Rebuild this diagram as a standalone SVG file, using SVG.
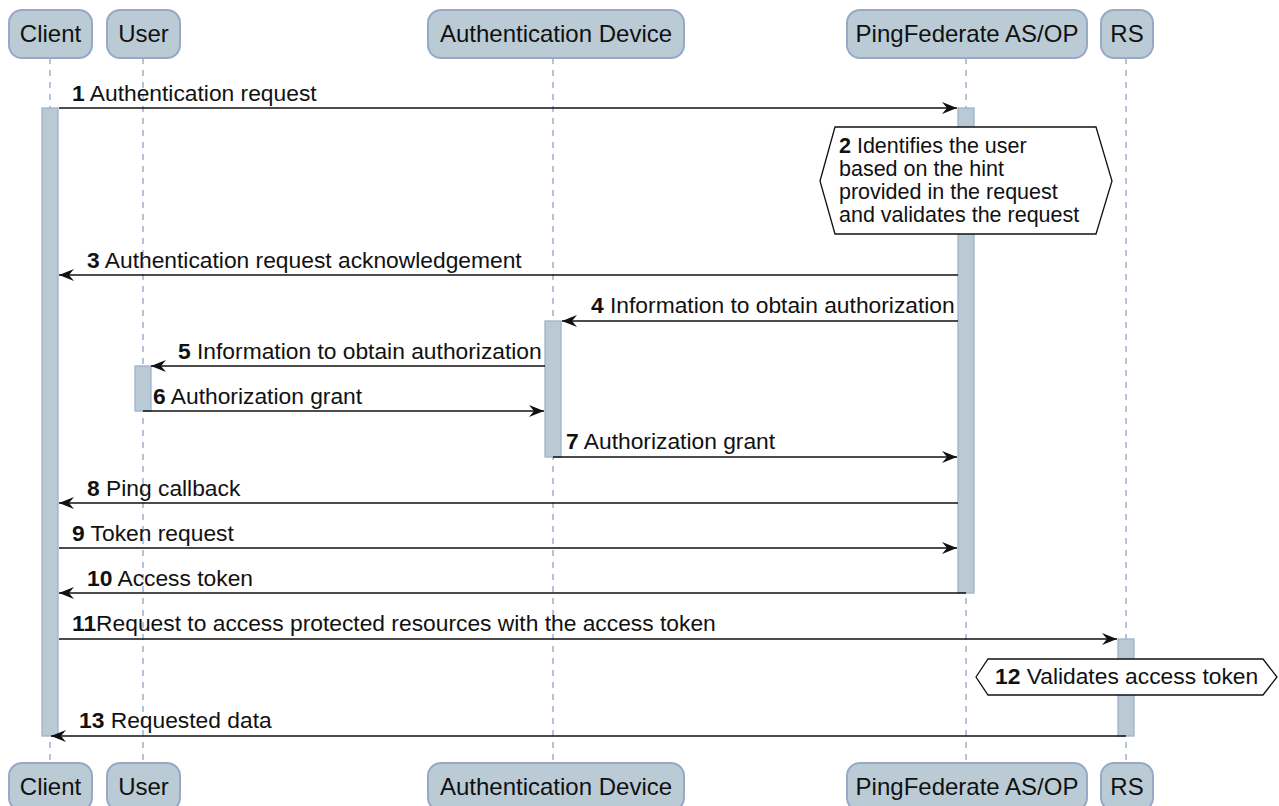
<svg xmlns="http://www.w3.org/2000/svg" width="1279" height="806" viewBox="0 0 1279 806">
<style>
text{font-family:"Liberation Sans",Arial,sans-serif;font-size:22.8px;fill:#111}
.b{font-weight:bold}
.part{fill:#bacbd6;stroke:#97a9c7;stroke-width:2}
.life{stroke:#8ea3c3;stroke-width:1.3;stroke-dasharray:6,6;fill:none}
.act{fill:#b9cad5;stroke:#9fb1cd;stroke-width:1.3}
.msg{stroke:#111;stroke-width:1.6;fill:none}
.note{fill:#fff;stroke:#111;stroke-width:1.3}
.nt{font-size:21.5px}
.pt{text-anchor:middle;font-size:24px}
</style>
<defs>
<marker id="ah" viewBox="0 0 15 12" refX="15" refY="6" markerWidth="15" markerHeight="12" markerUnits="userSpaceOnUse" orient="auto">
<path d="M0,0 L15,6 L0,12 L5,6 Z" fill="#111"/>
</marker>
</defs>
<g id="lifelines">
<line class="life" x1="50" y1="58" x2="50" y2="762"/>
<line class="life" x1="143" y1="58" x2="143" y2="762"/>
<line class="life" x1="553" y1="58" x2="553" y2="762"/>
<line class="life" x1="966" y1="58" x2="966" y2="762"/>
<line class="life" x1="1126" y1="58" x2="1126" y2="762"/>
</g>
<g id="activations">
<rect class="act" x="42" y="108" width="16" height="628"/>
<rect class="act" x="958" y="108" width="16" height="485"/>
<rect class="act" x="545" y="321" width="16" height="136"/>
<rect class="act" x="135" y="366" width="16" height="45"/>
<rect class="act" x="1118" y="639" width="16" height="97"/>
</g>
<g id="p-client"><rect class="part" x="9" y="10" width="83" height="48" rx="13"/><text class="pt" x="50.5" y="42">Client</text></g>
<g id="p-user"><rect class="part" x="107" y="10" width="73" height="48" rx="13"/><text class="pt" x="143.5" y="42">User</text></g>
<g id="p-device"><rect class="part" x="428" y="10" width="256" height="48" rx="13"/><text class="pt" x="556" y="42">Authentication Device</text></g>
<g id="p-ping"><rect class="part" x="847" y="10" width="240" height="48" rx="13"/><text class="pt" x="967" y="42">PingFederate AS/OP</text></g>
<g id="p-rs"><rect class="part" x="1101" y="10" width="52" height="48" rx="13"/><text class="pt" x="1127" y="42">RS</text></g>
<g id="p-client-b"><rect class="part" x="9" y="763" width="83" height="48" rx="13"/><text class="pt" x="50.5" y="795">Client</text></g>
<g id="p-user-b"><rect class="part" x="107" y="763" width="73" height="48" rx="13"/><text class="pt" x="143.5" y="795">User</text></g>
<g id="p-device-b"><rect class="part" x="428" y="763" width="256" height="48" rx="13"/><text class="pt" x="556" y="795">Authentication Device</text></g>
<g id="p-ping-b"><rect class="part" x="847" y="763" width="240" height="48" rx="13"/><text class="pt" x="967" y="795">PingFederate AS/OP</text></g>
<g id="p-rs-b"><rect class="part" x="1101" y="763" width="52" height="48" rx="13"/><text class="pt" x="1127" y="795">RS</text></g>
<g id="connectors">
<line class="msg" x1="59" y1="108" x2="957" y2="108" marker-end="url(#ah)"/>
<line class="msg" x1="958" y1="275" x2="59" y2="275" marker-end="url(#ah)"/>
<line class="msg" x1="958" y1="321" x2="562" y2="321" marker-end="url(#ah)"/>
<line class="msg" x1="545" y1="366" x2="151" y2="366" marker-end="url(#ah)"/>
<line class="msg" x1="143" y1="411" x2="544" y2="411" marker-end="url(#ah)"/>
<line class="msg" x1="553" y1="457" x2="957" y2="457" marker-end="url(#ah)"/>
<line class="msg" x1="958" y1="503" x2="59" y2="503" marker-end="url(#ah)"/>
<line class="msg" x1="59" y1="548" x2="957" y2="548" marker-end="url(#ah)"/>
<line class="msg" x1="966" y1="593" x2="59" y2="593" marker-end="url(#ah)"/>
<line class="msg" x1="59" y1="639" x2="1117" y2="639" marker-end="url(#ah)"/>
<line class="msg" x1="1126" y1="736" x2="51" y2="736" marker-end="url(#ah)"/>
</g>
<g id="labels">
<text x="72" y="101"><tspan class="b">1</tspan> Authentication request</text>
<text x="87" y="268"><tspan class="b">3</tspan> Authentication request acknowledgement</text>
<text x="591" y="313"><tspan class="b">4</tspan> Information to obtain authorization</text>
<text x="178" y="359"><tspan class="b">5</tspan> Information to obtain authorization</text>
<text x="153" y="404"><tspan class="b">6</tspan> Authorization grant</text>
<text x="566" y="449"><tspan class="b">7</tspan> Authorization grant</text>
<text x="87" y="496"><tspan class="b">8</tspan> Ping callback</text>
<text x="72" y="541"><tspan class="b">9</tspan> Token request</text>
<text x="87" y="586"><tspan class="b">10</tspan> Access token</text>
<text x="72" y="631"><tspan class="b">11</tspan>Request to access protected resources with the access token</text>
<text x="79" y="728"><tspan class="b">13</tspan> Requested data</text>
</g>
<g id="note-2">
<polygon class="note" points="820,181 835,127 1096,127 1112,181 1096,234 835,234"/>
<text class="nt" x="839" y="153"><tspan class="b">2</tspan> Identifies the user</text>
<text class="nt" x="839" y="176">based on the hint</text>
<text class="nt" x="839" y="199">provided in the request</text>
<text class="nt" x="839" y="222">and validates the request</text>
</g>
<g id="note-12">
<polygon class="note" points="976,677 988,659 1263,659 1277,677 1263,695 988,695"/>
<text x="995" y="684"><tspan class="b">12</tspan> Validates access token</text>
</g>
</svg>
